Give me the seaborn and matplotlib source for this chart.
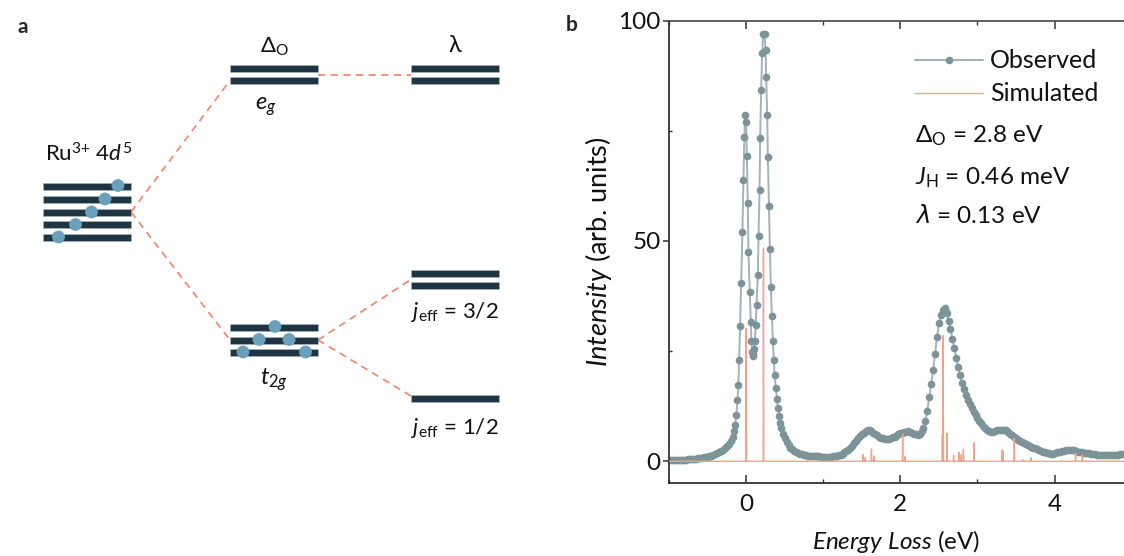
import numpy as np
import pandas as pd
import matplotlib
matplotlib.use("Agg")
import matplotlib.pyplot as plt
import seaborn as sns
from matplotlib.patches import Rectangle, Circle
from matplotlib.ticker import MultipleLocator

sns.set_theme(style="white")
plt.rcParams["font.family"] = ["Lato", "DejaVu Sans"]
plt.rcParams["mathtext.fontset"] = "custom"
plt.rcParams["mathtext.rm"] = "Lato"
plt.rcParams["mathtext.it"] = "Lato:italic"
plt.rcParams["mathtext.bf"] = "Lato:bold"
plt.rcParams["mathtext.sf"] = "DejaVu Sans:italic"
plt.rcParams["mathtext.fallback"] = "stixsans"

# ---------------------------------------------------------------- RIXS data
# low-loss tail, uniform grid from -1.0 eV to -0.175 eV
tail_energy = np.round(np.arange(-1.0, -0.17, 0.025), 3)
tail_intensity = [0.3, 0.3, 0.3, 0.3, 0.3, 0.4, 0.4, 0.4, 0.4, 0.4,
                  0.5, 0.5, 0.5, 0.6, 0.6, 0.7, 0.7, 0.8, 0.9, 0.9,
                  1.0, 1.1, 1.3, 1.4, 1.6, 1.8, 2.0, 2.3, 2.6, 3.0,
                  3.4, 4.0, 4.6, 5.6]

# elastic + spin-orbit exciton region
peak_energy = [-0.156, -0.143, -0.126, -0.113, -0.100, -0.091, -0.078, -0.065, -0.048, -0.035,
               -0.022, -0.013, 0.000, 0.009, 0.022, 0.030, 0.048, 0.061, 0.069, 0.078,
               0.087, 0.095, 0.104, 0.113, 0.126, 0.135, 0.152, 0.161, 0.174, 0.182,
               0.195, 0.208, 0.221, 0.239, 0.252, 0.260, 0.273, 0.282, 0.295, 0.308,
               0.321, 0.334, 0.347, 0.360, 0.369, 0.386, 0.399, 0.412, 0.425, 0.438,
               0.451]
peak_intensity = [6.8, 8.3, 10.6, 14.0, 17.4, 23.0, 30.7, 40.4, 52.0, 63.9,
                  73.6, 78.5, 77.1, 69.3, 58.6, 47.6, 38.4, 31.7, 27.2, 24.9,
                  24.0, 24.4, 25.5, 27.3, 31.0, 35.4, 42.2, 51.2, 61.6, 73.3,
                  84.3, 92.6, 97.0, 97.0, 93.4, 87.2, 78.6, 69.0, 58.0, 48.1,
                  39.5, 32.9, 27.3, 22.9, 19.5, 16.6, 14.2, 12.1, 10.2, 8.7,
                  7.5]

# crystal-field excitations, uniform grid from 0.475 eV to 4.9 eV
band_energy = np.round(np.arange(0.475, 4.901, 0.025), 3)
band_intensity = [6.2, 5.2, 4.3, 3.6, 3.1, 2.7, 2.4, 2.1, 1.9, 1.7,
                  1.6, 1.5, 1.4, 1.3, 1.2, 1.2, 1.1, 1.1, 1.1, 1.1,
                  1.0, 1.0, 1.0, 1.0, 1.0, 1.0, 1.1, 1.1, 1.2, 1.4,
                  1.5, 1.7, 2.0, 2.3, 2.6, 3.0, 3.5, 4.1, 4.7, 5.3,
                  5.8, 6.2, 6.5, 6.8, 7.0, 7.0, 6.8, 6.5, 6.2, 5.9,
                  5.6, 5.3, 5.2, 5.1, 5.1, 5.1, 5.2, 5.4, 5.6, 5.9,
                  6.2, 6.4, 6.5, 6.6, 6.7, 6.8, 6.7, 6.5, 6.3, 6.1,
                  6.0, 6.2, 6.8, 7.6, 9.1, 11.4, 14.5, 17.6, 20.7, 24.4,
                  28.2, 31.3, 33.3, 34.4, 34.8, 33.6, 31.9, 30.0, 27.8, 25.6,
                  23.4, 21.4, 19.5, 17.8, 16.3, 15.0, 13.9, 12.9, 12.0, 11.2,
                  10.5, 9.8, 9.2, 8.7, 8.1, 7.6, 7.1, 6.8, 6.6, 6.6,
                  6.8, 7.0, 7.1, 7.1, 7.1, 7.1, 7.0, 6.7, 6.3, 5.9,
                  5.5, 5.2, 4.8, 4.5, 4.3, 4.1, 3.9, 3.7, 3.5, 3.3,
                  3.1, 2.9, 2.7, 2.5, 2.3, 2.2, 2.0, 1.9, 1.8, 1.7,
                  1.7, 1.8, 2.0, 2.1, 2.2, 2.3, 2.4, 2.5, 2.6, 2.6,
                  2.6, 2.5, 2.4, 2.2, 2.1, 2.0, 1.9, 1.9, 1.8, 1.8,
                  1.7, 1.6, 1.6, 1.5, 1.5, 1.5, 1.5, 1.5, 1.4, 1.4,
                  1.4, 1.4, 1.4, 1.5, 1.5, 1.6, 1.7, 1.7]

# multiplet calculation: line positions (eV) and strengths
sim_energy = [0.000, 0.225, 1.515, 1.545, 1.625, 1.655, 2.030, 2.060, 2.545, 2.555,
              2.605, 2.690, 2.760, 2.790, 2.818, 2.955, 3.318, 3.332, 3.477, 3.585,
              3.695, 4.272, 4.360]
sim_height = [30.2, 48.3, 1.5, 0.8, 2.8, 1.2, 6.2, 1.0, 6.0, 28.5,
              6.4, 1.4, 2.0, 1.5, 2.7, 4.2, 2.5, 2.2, 5.2, 0.4,
              0.8, 1.9, 1.5]

params_text = [r"$\Delta_{\mathrm{O}}$ = 2.8 eV",
               r"$\mathit{J}_{\mathrm{H}}$ = 0.46 meV",
               r"$\mathsf{\lambda}$ = 0.13 eV"]

# ---------------------------------------------------------------- level scheme
# positions in the drawing units of the left panel (x to the right, y downward)
bar_len, bar_thick = 88, 7
ion_x, ion_levels = 43, [186, 199, 212, 224.5, 237]
ion_electrons = [(118, 185.5), (105, 199), (91.5, 212), (75.5, 224.5), (58.5, 237)]
eg_x, eg_levels = 230, [68.5, 80.5]
t2g_x, t2g_levels = 230, [327, 340, 352.5]
t2g_electrons = [(275, 326.5), (259, 339.5), (289, 339.5), (243, 352), (305.5, 352)]
so_x = 411
so_eg_levels = [68.5, 80.5]
j32_levels = [273.5, 285.5]
j12_levels = [398.5]

BAR = "#1f3541"
ELEC = "#6aa0bb"
DASH = "#f28b72"
OBS_LINE = "#a2b3b9"
OBS_DOT = "#7d939a"
SIM = "#f3a08c"
INK = "#111111"

fig = plt.figure(figsize=(11.24, 5.56), dpi=100)

# ---------------------------------------------------------------- panel a
axa = fig.add_axes([0, 0, 560 / 1124, 1])
axa.set_xlim(0, 560)
axa.set_ylim(556, 0)
axa.axis("off")


def draw_levels(x0, levels):
    for y in levels:
        axa.add_patch(Rectangle((x0, y - bar_thick / 2), bar_len, bar_thick,
                                facecolor=BAR, edgecolor="#a9bcc4", lw=0.4, zorder=2))


for x0, levels in [(ion_x, ion_levels), (eg_x, eg_levels), (t2g_x, t2g_levels),
                   (so_x, so_eg_levels), (so_x, j32_levels), (so_x, j12_levels)]:
    draw_levels(x0, levels)

for (cx, cy) in ion_electrons + t2g_electrons:
    axa.add_patch(Circle((cx, cy), 6.4, facecolor=ELEC, edgecolor="none", zorder=3))

ion_mid = ion_levels[2]
connectors = [
    ((ion_x + bar_len, ion_mid), (eg_x, eg_levels[1])),
    ((ion_x + bar_len, ion_mid), (t2g_x, t2g_levels[1])),
    ((eg_x + bar_len, np.mean(eg_levels)), (so_x, np.mean(so_eg_levels))),
    ((t2g_x + bar_len, t2g_levels[1]), (so_x, np.mean(j32_levels))),
    ((t2g_x + bar_len, t2g_levels[1]), (so_x, j12_levels[0] - 2.5)),
]
for (xa, ya), (xb, yb) in connectors:
    axa.plot([xa, xb], [ya, yb], color=DASH, lw=1.3, ls=(0, (4, 3)), zorder=1)

axa.text(45, 161, r"Ru$^{3{+}}$ 4$\mathit{d}^{5}$", fontsize=16, ha="left",
         va="baseline", color=INK)
axa.text(eg_x + bar_len / 2, 47, r"$\Delta_{\mathrm{O}}$", fontsize=16,
         ha="center", va="center", color=INK)
axa.text(eg_x + bar_len / 2 - 8, 107, r"$\mathit{e}_{\mathit{g}}$", fontsize=17,
         ha="center", va="center", color=INK)
axa.text(so_x + bar_len / 2, 46, "λ", fontsize=17, ha="center", va="center",
         color=INK)
axa.text(t2g_x + bar_len / 2, 380, r"$\mathit{t}_{\mathit{2g}}$", fontsize=17,
         ha="center", va="center", color=INK)
axa.text(so_x, 312, r"$\mathit{j}_{\mathrm{eff}}$ = 3/2", fontsize=16,
         ha="left", va="center", color=INK)
axa.text(so_x, 428, r"$\mathit{j}_{\mathrm{eff}}$ = 1/2", fontsize=16,
         ha="left", va="center", color=INK)

fig.text(17 / 1124, 1 - 27 / 556, "a", fontsize=15, fontweight="bold",
         ha="left", va="center")
fig.text(566 / 1124, 1 - 25 / 556, "b", fontsize=15, fontweight="bold",
         ha="left", va="center")

# ---------------------------------------------------------------- panel b
axb = fig.add_axes([669 / 1124, 1 - 483.3 / 556, 455 / 1124, 462.6 / 556])

obs = pd.DataFrame({
    "energy": np.concatenate([tail_energy, peak_energy, band_energy]),
    "intensity": np.concatenate([tail_intensity, peak_intensity, band_intensity]),
})

# simulated line spectrum as a sharp stick polyline on a zero baseline
hw = 0.004
sx, sy = [-1.05], [0.0]
for e, h in zip(sim_energy, sim_height):
    sx += [e - hw, e, e + hw]
    sy += [0.0, h, 0.0]
sx.append(5.0)
sy.append(0.0)
sim = pd.DataFrame({"energy": sx, "intensity": sy})

sns.lineplot(data=obs, x="energy", y="intensity", ax=axb, color=OBS_LINE, lw=1.4,
             marker="o", markersize=5.5, markerfacecolor=OBS_DOT,
             markeredgewidth=0, estimator=None, sort=False, label="Observed",
             zorder=2)
sns.lineplot(data=sim, x="energy", y="intensity", ax=axb, color=SIM, lw=1.0,
             estimator=None, sort=False, label="Simulated", zorder=3)

axb.set_xlim(-1.0, 4.9)
axb.set_ylim(-5, 100)
axb.xaxis.set_major_locator(MultipleLocator(2))
axb.xaxis.set_minor_locator(MultipleLocator(1))
axb.yaxis.set_major_locator(MultipleLocator(50))
axb.yaxis.set_minor_locator(MultipleLocator(25))

for side in ["left", "bottom"]:
    axb.spines[side].set_color("#333333")
    axb.spines[side].set_linewidth(1.3)
axb.spines["top"].set_color("#555555")
axb.spines["top"].set_linewidth(1.3)
axb.spines["right"].set_visible(False)

axb.tick_params(axis="x", which="major", direction="in", length=5.5, width=1.1,
                color="#333333", top=True, bottom=True, labelsize=17.5, pad=8,
                labelcolor=INK)
axb.tick_params(axis="x", which="minor", direction="in", length=3, width=1.0,
                color="#333333", top=True, bottom=True)
axb.tick_params(axis="y", which="major", direction="out", length=4, width=1.1,
                color="#333333", left=True, labelsize=17.5, pad=2,
                labelcolor=INK)
axb.tick_params(axis="y", which="minor", direction="in", length=2.5, width=1.0,
                color="#333333", left=True)

axb.set_xlabel(r"$\mathit{Energy\ Loss}$ (eV)", fontsize=17.5, labelpad=9,
               color=INK)
axb.set_ylabel(r"$\mathit{Intensity}$ (arb. units)", fontsize=19.5, labelpad=3,
               color=INK)

leg = axb.legend(loc="upper left", bbox_to_anchor=(0.541, 0.938), frameon=False,
                 fontsize=18, handlelength=2.7, handletextpad=0.3,
                 labelspacing=0.4, borderpad=0, borderaxespad=0, numpoints=1)
for txt in leg.get_texts():
    txt.set_color(INK)

for s, yb in zip(params_text, [0.738, 0.647, 0.562]):
    axb.text(0.5407, yb, s, transform=axb.transAxes, fontsize=17.5,
             ha="left", va="baseline", color=INK)

fig.savefig("out.png", dpi=100)
